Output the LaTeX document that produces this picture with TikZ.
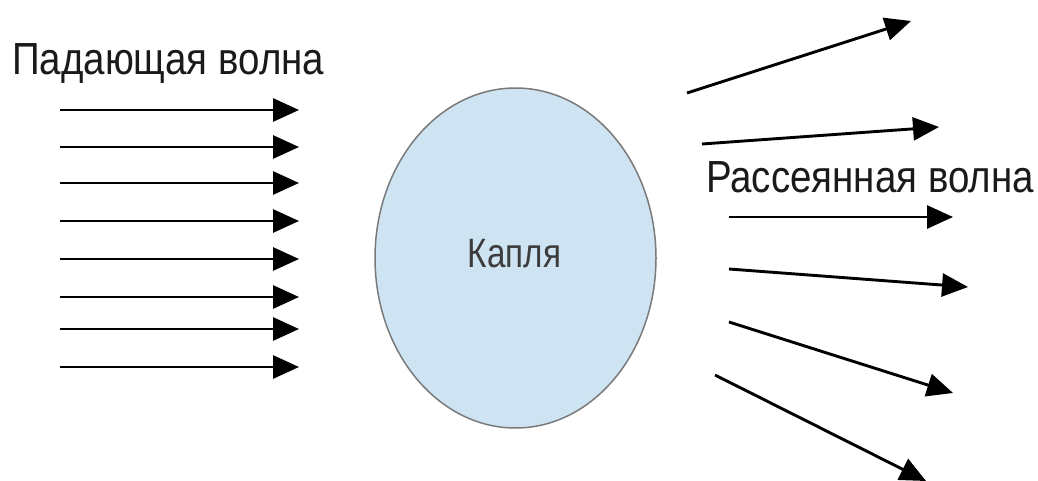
\documentclass[tikz,border=0pt]{standalone}
\usepackage{fontspec}
\setmainfont{Liberation Sans}
\usetikzlibrary{arrows.meta,shapes.geometric}
\definecolor{dropfill}{HTML}{CFE4F3}
\definecolor{dropedge}{HTML}{7A7A7A}
\definecolor{labtext}{HTML}{1A1A1A}
\tikzset{
  wave/.style={line width=2.9pt,-{Triangle[length=26pt,width=23pt]}},
  bigtext/.style={inner sep=0pt,anchor=base west,text=labtext,font=\fontsize{45}{54}\selectfont},
}
\begin{document}
\begin{tikzpicture}[x=1pt,y=-1pt]
\useasboundingbox (0,0) rectangle (1038,481);
\fill[white] (0,0) rectangle (1038,481);
% droplet
\node[ellipse,draw=dropedge,line width=1.5pt,fill=dropfill,minimum width=281pt,minimum height=340pt,inner sep=0pt] (drop) at (515.5,258) {};
\node[inner sep=0pt,anchor=base,text=labtext!85,font=\fontsize{41}{48}\selectfont] (kaplya) at (514.5,267) {\scalebox{0.81}[1]{Капля}};
% labels
\node[bigtext] (inc) at (12,75) {\scalebox{0.855}[1]{Падающая волна}};
\node[bigtext] (sca) at (706,193) {\scalebox{0.855}[1]{Рассеянная волна}};
% incident wave
\foreach \i/\y in {1/110,2/147,3/183,4/221,5/259,6/297,7/329,8/367}{
  \coordinate (is\i) at (60,\y);
  \coordinate (ie\i) at (299,\y);
  \draw[wave] (is\i) -- (ie\i);
}
% scattered wave
\coordinate (ss1) at (687,93);  \coordinate (se1) at (911,21);
\coordinate (ss2) at (702,144); \coordinate (se2) at (939,127);
\coordinate (ss3) at (729,217); \coordinate (se3) at (953,217);
\coordinate (ss4) at (729,269); \coordinate (se4) at (968,287);
\coordinate (ss5) at (729,322); \coordinate (se5) at (953,393);
\coordinate (ss6) at (715,375); \coordinate (se6) at (926,481);
\foreach \i in {1,...,6}{
  \draw[wave] (ss\i) -- (se\i);
}
\end{tikzpicture}
\end{document}
